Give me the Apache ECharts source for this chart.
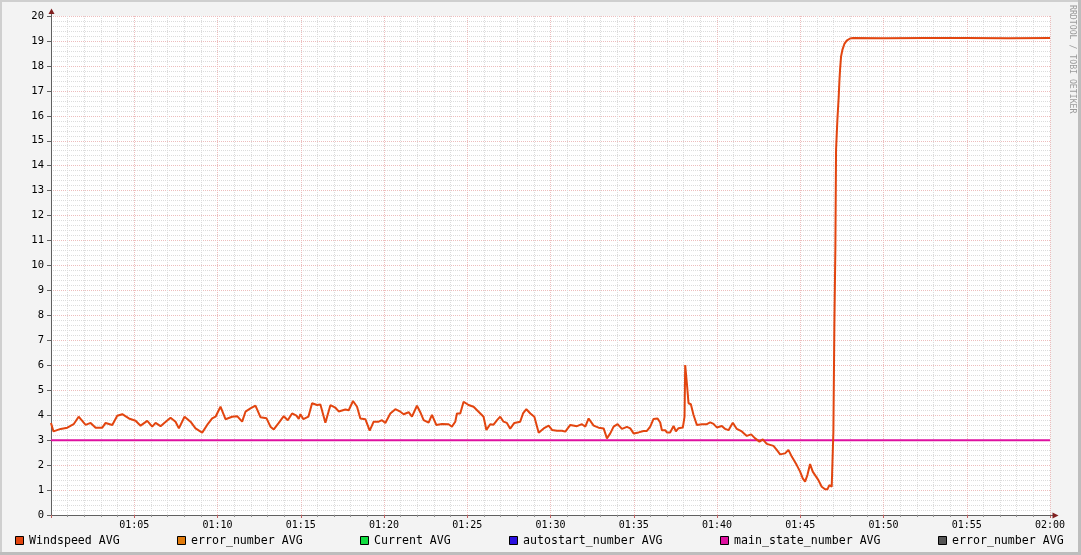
<!DOCTYPE html>
<html>
<head>
<meta charset="utf-8">
<script src="https://cdn.jsdelivr.net/npm/echarts@6/dist/echarts.min.js"></script>
<style>
html,body{margin:0;padding:0;background:#F3F3F3;}
#chart{width:1081px;height:555px;}
</style>
</head>
<body>
<div id="chart"></div>
<script>
// minutes after 01:00
var windTimes = [0.0,0.15,0.58,0.98,1.36,1.66,2.08,2.38,2.68,3.08,3.28,3.68,3.98,4.28,4.68,5.08,5.38,5.78,6.08,6.28,6.58,6.82,7.18,7.48,7.68,8.02,8.38,8.68,9.08,9.38,9.68,9.88,10.18,10.48,10.88,11.18,11.48,11.68,11.98,12.28,12.58,12.94,13.18,13.38,13.68,13.98,14.22,14.48,14.74,14.88,14.98,15.16,15.46,15.68,15.98,16.18,16.48,16.78,17.08,17.28,17.68,17.88,18.14,18.38,18.58,18.88,19.14,19.38,19.68,19.88,20.08,20.38,20.68,20.98,21.18,21.48,21.68,21.98,22.18,22.38,22.68,22.88,23.14,23.48,23.88,24.08,24.28,24.38,24.58,24.78,25.08,25.38,25.68,25.98,26.15,26.38,26.58,26.79,26.98,27.18,27.38,27.58,27.83,28.18,28.35,28.55,28.79,29.03,29.29,29.59,29.89,30.09,30.39,30.69,30.89,31.19,31.59,31.89,32.09,32.29,32.59,32.89,33.19,33.39,33.59,33.79,34.03,34.29,34.59,34.79,34.99,35.29,35.59,35.79,35.99,36.19,36.43,36.59,36.69,36.89,36.99,37.19,37.39,37.53,37.69,37.95,38.05,38.09,38.19,38.29,38.43,38.59,38.79,39.09,39.39,39.59,39.79,39.99,40.29,40.49,40.69,40.95,41.19,41.49,41.79,42.05,42.29,42.55,42.75,42.99,43.39,43.59,43.79,44.09,44.29,44.49,44.79,44.99,45.15,45.29,45.43,45.59,45.75,45.89,46.09,46.29,46.49,46.63,46.75,46.89,46.96,46.99,47.05,47.11,47.15,47.23,47.31,47.35,47.39,47.45,47.53,47.65,47.79,47.99,48.17,50.0,52.5,55.0,57.5,60.0];
var windspeed = [3.69,3.35,3.45,3.50,3.64,3.94,3.61,3.69,3.50,3.50,3.69,3.61,3.98,4.04,3.87,3.78,3.58,3.77,3.54,3.69,3.56,3.70,3.90,3.74,3.47,3.94,3.74,3.47,3.30,3.61,3.87,3.94,4.34,3.84,3.94,3.96,3.74,4.14,4.27,4.38,3.92,3.88,3.54,3.43,3.69,3.96,3.80,4.07,3.98,3.85,4.04,3.84,3.94,4.48,4.41,4.43,3.70,4.40,4.30,4.15,4.23,4.20,4.57,4.34,3.87,3.84,3.38,3.74,3.74,3.80,3.69,4.07,4.24,4.14,4.04,4.12,3.94,4.38,4.12,3.80,3.70,4.01,3.61,3.65,3.64,3.54,3.74,4.07,4.07,4.54,4.41,4.34,4.14,3.94,3.41,3.64,3.62,3.80,3.94,3.74,3.69,3.46,3.69,3.74,4.07,4.24,4.07,3.94,3.30,3.47,3.58,3.41,3.38,3.38,3.34,3.61,3.56,3.64,3.54,3.87,3.58,3.50,3.47,3.07,3.27,3.54,3.64,3.45,3.53,3.47,3.27,3.31,3.37,3.37,3.54,3.85,3.87,3.71,3.40,3.40,3.31,3.31,3.57,3.35,3.48,3.51,3.94,6.01,5.28,4.48,4.44,4.01,3.61,3.64,3.64,3.71,3.65,3.51,3.57,3.45,3.40,3.70,3.45,3.35,3.17,3.23,3.07,2.94,3.03,2.85,2.77,2.61,2.43,2.47,2.61,2.34,2.00,1.74,1.47,1.34,1.60,2.04,1.74,1.60,1.40,1.13,1.03,1.03,1.20,1.13,1.10,3.34,7.65,10.73,14.63,15.83,16.77,17.37,17.84,18.37,18.64,18.88,19.01,19.10,19.12,19.11,19.12,19.12,19.11,19.12];
var mainStateTimes = [0, 60];
var mainStateValues = [3, 3];
var xTickLabels = ['', '01:05', '01:10', '01:15', '01:20', '01:25', '01:30', '01:35', '01:40', '01:45', '01:50', '01:55', '02:00'];
var legendNames = ['Windspeed AVG', 'error_number AVG', 'Current AVG', 'autostart_number AVG', 'main_state_number AVG', 'error_number AVG'];
var legendColors = ['#E2450F', '#E07A0B', '#10DD40', '#2A0FE0', '#DE10A0', '#555555'];
var legendX = [15, 177, 360, 509, 720, 938];

var FONT = 'DejaVu Sans Mono';
var windData = windTimes.map(function (t, i) { return [t, windspeed[i]]; });
var mainData = mainStateTimes.map(function (t, i) { return [t, mainStateValues[i]]; });

var graphics = [
  {type:'rect', shape:{x:0,y:0,width:1081,height:2}, style:{fill:'#CFCFCF'}, silent:true},
  {type:'rect', shape:{x:0,y:0,width:2,height:555}, style:{fill:'#CFCFCF'}, silent:true},
  {type:'rect', shape:{x:1078,y:0,width:3,height:555}, style:{fill:'#BDBDBD'}, silent:true},
  {type:'rect', shape:{x:0,y:552,width:1081,height:3}, style:{fill:'#BDBDBD'}, silent:true},
  {type:'line', shape:{x1:51.5,y1:13,x2:51.5,y2:16}, style:{stroke:'#606060',lineWidth:1}, silent:true, z:10},
  {type:'polygon', shape:{points:[[51.5,8.5],[48.5,14],[54.5,14]]}, style:{fill:'#801F1F'}, silent:true, z:10},
  {type:'line', shape:{x1:1050,y1:515.5,x2:1053,y2:515.5}, style:{stroke:'#606060',lineWidth:1}, silent:true, z:10},
  {type:'polygon', shape:{points:[[1058.5,515.5],[1052.5,512.5],[1052.5,518.5]]}, style:{fill:'#801F1F'}, silent:true, z:10},
  {type:'text', x:1068, y:5, rotation:-Math.PI/2, style:{text:'RRDTOOL / TOBI OETIKER', font:'8.2px "DejaVu Sans Mono"', fill:'#9A9A9A', textAlign:'left', textVerticalAlign:'bottom'}, silent:true}
];
legendNames.forEach(function (n, i) {
  graphics.push({type:'rect', shape:{x:legendX[i]+0.5,y:536.5,width:8,height:8}, style:{fill:legendColors[i], stroke:'#000', lineWidth:1}, silent:true});
  graphics.push({type:'text', x:legendX[i]+14, y:541, style:{text:n, font:'11.6px "DejaVu Sans Mono"', fill:'#000', textAlign:'left', textVerticalAlign:'middle'}, silent:true});
});

var chart = echarts.init(document.getElementById('chart'), null, {renderer:'canvas'});
chart.setOption({
  backgroundColor: '#F3F3F3',
  animation: false,
  grid: {left:51, right:31, top:16, bottom:40, show:true, backgroundColor:'#FFFFFF', borderWidth:0},
  xAxis: {
    type:'value', min:0, max:60, interval:5,
    axisLine:{show:true, onZero:false, lineStyle:{color:'#606060', width:1}},
    axisTick:{show:true, length:3, lineStyle:{color:'#C06060'}},
    minorTick:{show:true, splitNumber:5, length:2, lineStyle:{color:'#909090'}},
    splitLine:{show:true, lineStyle:{color:'#EDBDBD', type:[1,1], width:1}},
    minorSplitLine:{show:true, lineStyle:{color:'#DCDCDC', type:[1,1], width:1}},
    axisLabel:{show:true, margin:5, fontFamily:FONT, fontSize:10, color:'#000',
      formatter:function (v) { return xTickLabels[Math.round(v/5)] || ''; }}
  },
  yAxis: {
    type:'value', min:0, max:20, interval:1,
    axisLine:{show:true, onZero:false, lineStyle:{color:'#606060', width:1}},
    axisTick:{show:true, length:4, lineStyle:{color:'#606060'}},
    minorTick:{show:false, splitNumber:5},
    splitLine:{show:true, lineStyle:{color:'#EDBDBD', type:[1,1], width:1}},
    minorSplitLine:{show:true, lineStyle:{color:'#DCDCDC', type:[1,1], width:1}},
    axisLabel:{show:true, margin:7, fontFamily:FONT, fontSize:10.5, color:'#000'}
  },
  graphic: graphics,
  series: [
    {name:'main_state_number AVG', type:'line', data:mainData, showSymbol:false, z:2,
     lineStyle:{color:'#DE10A0', width:2}, silent:true},
    {name:'Windspeed AVG', type:'line', data:windData, showSymbol:false, z:3,
     lineStyle:{color:'#E2450F', width:2}, silent:true}
  ]
});
</script>
</body>
</html>
